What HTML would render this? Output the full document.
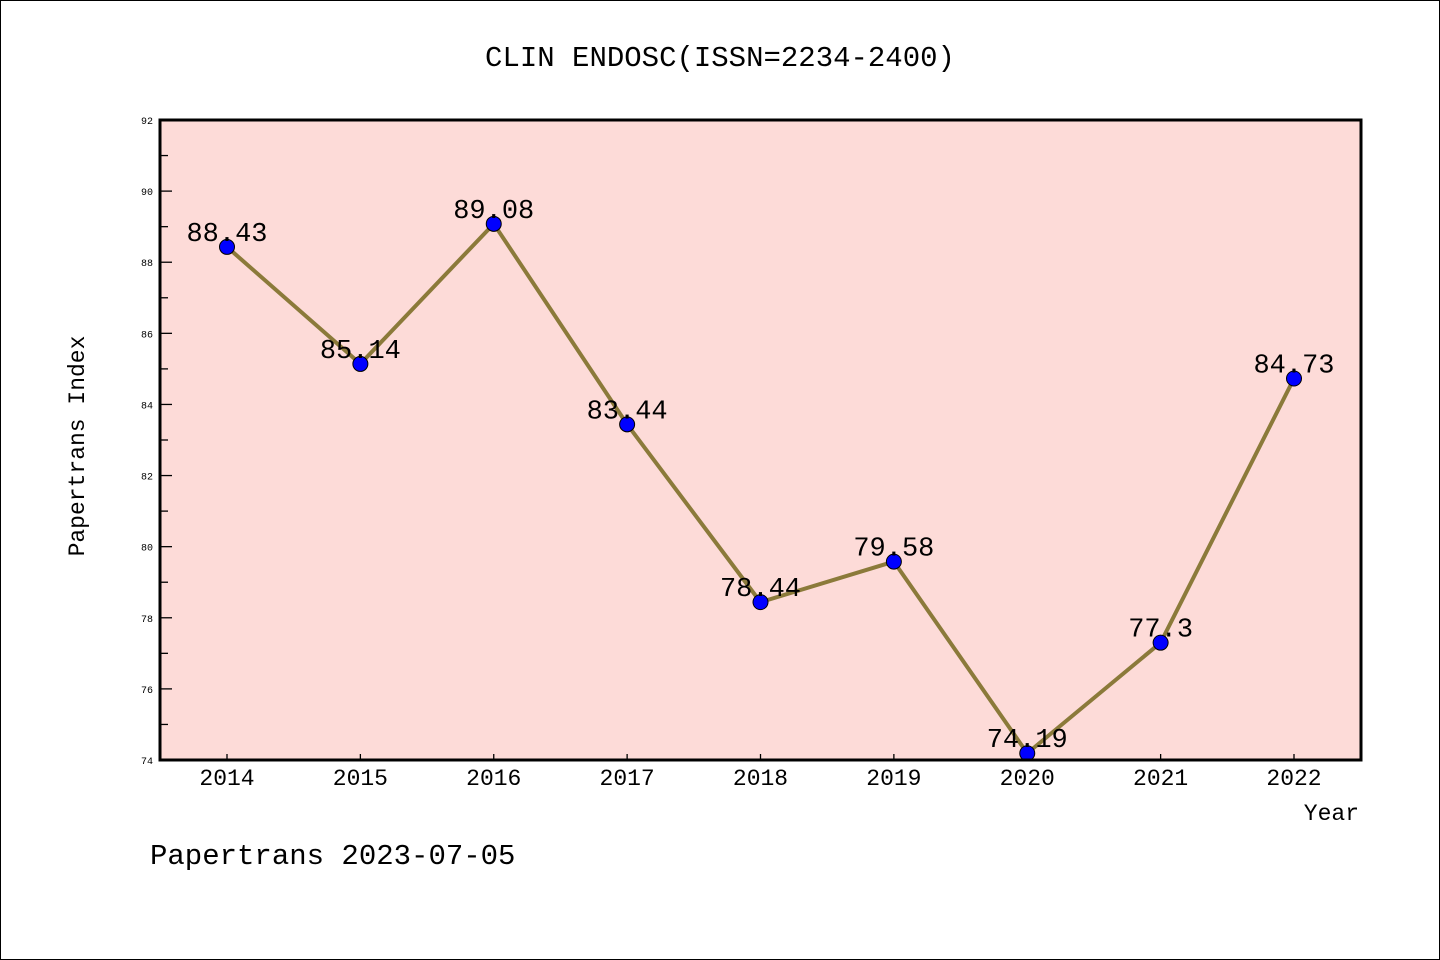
<!DOCTYPE html>
<html><head><meta charset="utf-8"><style>
body{margin:0;background:#fff}
svg{display:block;font-family:"Liberation Mono","DejaVu Sans Mono",monospace}
</style></head><body>
<svg id="chart" width="1440" height="960" xmlns="http://www.w3.org/2000/svg">
<rect x="0.5" y="0.5" width="1439" height="959" fill="#fff" stroke="#000"/>
<text x="720" y="66" font-size="29" text-anchor="middle">CLIN ENDOSC(ISSN=2234-2400)</text>
<rect x="160" y="120" width="1201" height="640" fill="#fddbd8"/>
<g id="yaxis"></g>
<g id="xaxis"></g>
<g id="series"></g>
<rect x="160" y="120" width="1201" height="640" fill="none" stroke="#000" stroke-width="3"/>
<text transform="translate(84,446) rotate(-90)" font-size="23" text-anchor="middle">Papertrans Index</text>
<text x="1359" y="820" font-size="23" text-anchor="end">Year</text>
<text x="150" y="864" font-size="29">Papertrans 2023-07-05</text>
</svg>
<script>
const years=["2014","2015","2016","2017","2018","2019","2020","2021","2022"];
const values=[88.43,85.14,89.08,83.44,78.44,79.58,74.19,77.3,84.73];
const valueLabels=["88.43","85.14","89.08","83.44","78.44","79.58","74.19","77.3","84.73"];
const yTicks=[74,76,78,80,82,84,86,88,90,92];
const NS="http://www.w3.org/2000/svg";
const yMin=74,yMax=92,yTop=120,yBot=760,xFirst=227,xLast=1294;
const yS=v=>yBot-(v-yMin)/(yMax-yMin)*(yBot-yTop);
const xS=i=>xFirst+i*(xLast-xFirst)/(years.length-1);
function mk(t,a,p){const e=document.createElementNS(NS,t);for(const k in a)e.setAttribute(k,a[k]);p.appendChild(e);return e;}
const ya=document.getElementById('yaxis'),xa=document.getElementById('xaxis'),sr=document.getElementById('series');
for(let v=yMin;v<=yMax;v++){
  const y=yS(v);const major=yTicks.includes(v);
  const l=mk('line',{x1:160,x2:160+(major?12:8),y1:y,y2:y,stroke:'#000','stroke-width':1.3},ya);
  
  
  if(major){const t=mk('text',{x:153,y:y+4,'font-size':10,'text-anchor':'end'},ya);t.textContent=v;
  
  }
}
years.forEach((yr,i)=>{
  const x=xS(i);
  const l=mk('line',{x1:x,x2:x,y1:yBot,y2:yBot-6,stroke:'#000','stroke-width':1.3},xa);
  
  
  const t=mk('text',{x:x,y:785,'font-size':23,'text-anchor':'middle'},xa);t.textContent=yr;
  
  
});
const pl=mk('polyline',{points:values.map((v,i)=>xS(i)+','+yS(v)).join(' '),fill:'none',stroke:'#8b7a3a','stroke-width':4,'stroke-linejoin':'round'},sr);


values.forEach((v,i)=>{
  const c=mk('circle',{cx:xS(i),cy:yS(v),r:7.5,fill:'#0000ff',stroke:'#000','stroke-width':1},sr);
  
  
});
values.forEach((v,i)=>{
  const t=mk('text',{x:xS(i),y:yS(v)-6,'font-size':27,'text-anchor':'middle'},sr);t.textContent=valueLabels[i];
  
  
});
</script>
</body></html>
